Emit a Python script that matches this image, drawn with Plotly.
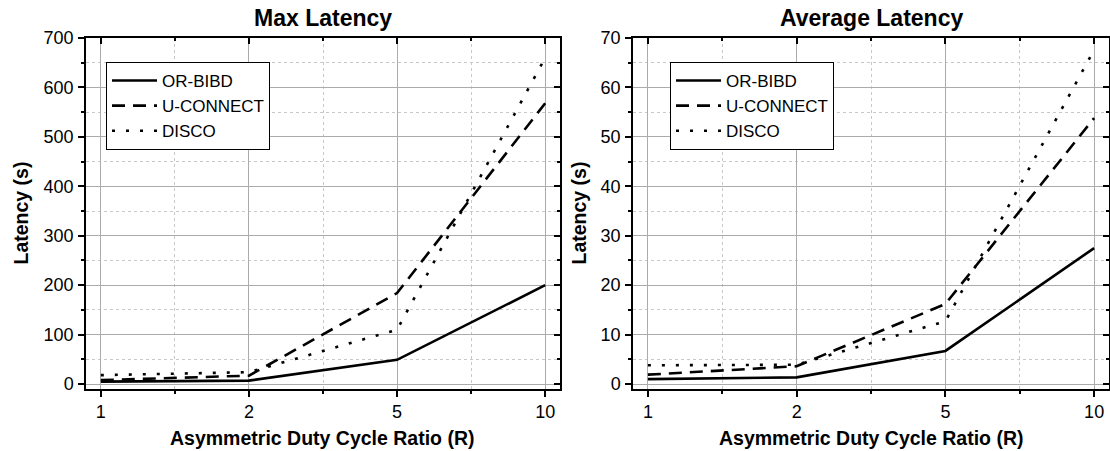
import plotly.graph_objects as go

# ---------------- data ----------------
ratios = ["1", "2", "5", "10"]
series_names = ["OR-BIBD", "U-CONNECT", "DISCO"]

max_or_bibd = [5, 7, 49, 200]
max_uconnect = [8, 17, 184, 568]
max_disco = [18, 24, 110, 660]

avg_or_bibd = [1.0, 1.35, 6.7, 27.5]
avg_uconnect = [1.9, 3.6, 16.2, 53.8]
avg_disco = [3.8, 3.9, 12.7, 67.6]

max_ticks = [0, 100, 200, 300, 400, 500, 600, 700]
avg_ticks = [0, 10, 20, 30, 40, 50, 60, 70]

# ---------------- style ----------------
W, H = 1110, 451
FONT = "Liberation Sans, Arial, sans-serif"
xpos = list(range(len(ratios)))
dashes = ["solid", "13px,8px", "3px,11px"]
GRID = "#ababab"
MINOR_GRID = "#c9c9c9"

fig = go.Figure()

panels = [
    dict(vals=[max_or_bibd, max_uconnect, max_disco], x="x", y="y", leg="legend"),
    dict(vals=[avg_or_bibd, avg_uconnect, avg_disco], x="x2", y="y2", leg="legend2"),
]
for p in panels:
    for name, vals, dash in zip(series_names, p["vals"], dashes):
        fig.add_trace(go.Scatter(
            x=xpos, y=vals, name=name, mode="lines",
            line=dict(color="black", width=2.6, dash=dash),
            xaxis=p["x"], yaxis=p["y"], legend=p["leg"],
        ))

# invisible traces to host the mirrored (top/right) axes
fig.add_trace(go.Scatter(x=xpos, y=max_disco, xaxis="x3", yaxis="y3", mode="lines",
                         opacity=0, showlegend=False, hoverinfo="skip"))
fig.add_trace(go.Scatter(x=xpos, y=avg_disco, xaxis="x4", yaxis="y4", mode="lines",
                         opacity=0, showlegend=False, hoverinfo="skip"))

dom_left = [86 / W, 560 / W]
dom_right = [633 / W, 1109 / W]
dom_y = [1 - 389 / H, 1 - 38 / H]
xrange_ = [-0.1, 3.1]
max_range = [-10, 700]
avg_range = [-1, 70]

tickfont = dict(family=FONT, size=18, color="black")


def xaxis_main(domain, anchor):
    return dict(
        domain=domain, anchor=anchor, range=xrange_,
        tickmode="array", tickvals=xpos, ticktext=ratios,
        ticks="outside", ticklen=6, tickwidth=1.5, tickcolor="black",
        showline=True, linecolor="black", linewidth=1.5,
        showgrid=True, gridcolor=GRID, gridwidth=1, zeroline=False,
        minor=dict(tickmode="linear", tick0=0, dtick=0.5, ticks="outside", ticklen=3,
                   tickwidth=1.5, tickcolor="black", showgrid=True,
                   gridcolor=MINOR_GRID, griddash="dot", gridwidth=1),
        tickfont=tickfont, fixedrange=True,
    )


def yaxis_main(domain, anchor, rng, ticks):
    step = ticks[1] - ticks[0]
    return dict(
        domain=domain, anchor=anchor, range=rng,
        tickmode="array", tickvals=ticks,
        ticks="outside", ticklen=6, tickwidth=1.5, tickcolor="black",
        ticklabelstandoff=1,
        showline=True, linecolor="black", linewidth=1.5,
        showgrid=True, gridcolor=GRID, gridwidth=1,
        zeroline=True, zerolinecolor=GRID, zerolinewidth=1,
        minor=dict(tickmode="linear", tick0=0, dtick=step / 2, ticks="outside", ticklen=3,
                   tickwidth=1.5, tickcolor="black", showgrid=True,
                   gridcolor=MINOR_GRID, griddash="dot", gridwidth=1),
        tickfont=tickfont, fixedrange=True,
    )


def xaxis_mirror(over, anchor):
    return dict(
        overlaying=over, anchor=anchor, side="top", range=xrange_,
        tickmode="array", tickvals=xpos, showticklabels=False,
        ticks="inside", ticklen=6, tickwidth=1.5, tickcolor="black",
        showline=True, linecolor="black", linewidth=1.5, showgrid=False, zeroline=False,
        minor=dict(tickmode="linear", tick0=0, dtick=0.5, ticks="inside", ticklen=3,
                   tickwidth=1.5, tickcolor="black", showgrid=False),
        fixedrange=True,
    )


def yaxis_mirror(over, anchor, rng, ticks):
    step = ticks[1] - ticks[0]
    return dict(
        overlaying=over, anchor=anchor, side="right", range=rng,
        tickmode="array", tickvals=ticks, showticklabels=False,
        ticks="inside", ticklen=6, tickwidth=1.5, tickcolor="black",
        showline=True, linecolor="black", linewidth=1.5, showgrid=False, zeroline=False,
        minor=dict(tickmode="linear", tick0=0, dtick=step / 2, ticks="inside", ticklen=3,
                   tickwidth=1.5, tickcolor="black", showgrid=False),
        fixedrange=True,
    )


legend_style = dict(
    bgcolor="white", bordercolor="black", borderwidth=1,
    font=dict(family=FONT, size=17, color="black"),
    xanchor="left", yanchor="top", tracegroupgap=0, itemwidth=45,
)

title_font = dict(family=FONT, size=23, color="black")
axis_title_font = dict(family=FONT, size=19.5, color="black")

annotations = []
for dom, title, ytx in [(dom_left, "Max Latency", 20 / W), (dom_right, "Average Latency", 578 / W)]:
    cx = (dom[0] + dom[1]) / 2
    annotations.append(dict(text="<b>%s</b>" % title, x=cx, y=1 - 18 / H, xref="paper", yref="paper",
                            xanchor="center", yanchor="middle", showarrow=False, font=title_font))
    annotations.append(dict(text="<b>Asymmetric Duty Cycle Ratio (R)</b>", x=cx, y=1 - 438 / H,
                            xref="paper", yref="paper", xanchor="center", yanchor="middle",
                            showarrow=False, font=axis_title_font))
    annotations.append(dict(text="<b>Latency (s)</b>", x=ytx, y=(dom_y[0] + dom_y[1]) / 2,
                            xref="paper", yref="paper", xanchor="center", yanchor="middle",
                            textangle=-90, showarrow=False, font=axis_title_font))

fig.update_layout(
    width=W, height=H,
    margin=dict(l=0, r=0, t=0, b=0, autoexpand=False),
    paper_bgcolor="white", plot_bgcolor="white",
    font=dict(family=FONT, color="black"),
    xaxis=xaxis_main(dom_left, "y"),
    yaxis=yaxis_main(dom_y, "x", max_range, max_ticks),
    xaxis2=xaxis_main(dom_right, "y2"),
    yaxis2=yaxis_main(dom_y, "x2", avg_range, avg_ticks),
    xaxis3=xaxis_mirror("x", "y"),
    yaxis3=yaxis_mirror("y", "x", max_range, max_ticks),
    xaxis4=xaxis_mirror("x2", "y2"),
    yaxis4=yaxis_mirror("y2", "x2", avg_range, avg_ticks),
    legend=dict(x=106 / W, y=1 - 62 / H, **legend_style),
    legend2=dict(x=670 / W, y=1 - 62 / H, **legend_style),
    annotations=annotations,
    showlegend=True,
)

fig.write_html(
    "out.html",
    config={"displayModeBar": False},
    post_script="document.body.style.margin='0px';document.body.style.overflow='hidden';",
)
